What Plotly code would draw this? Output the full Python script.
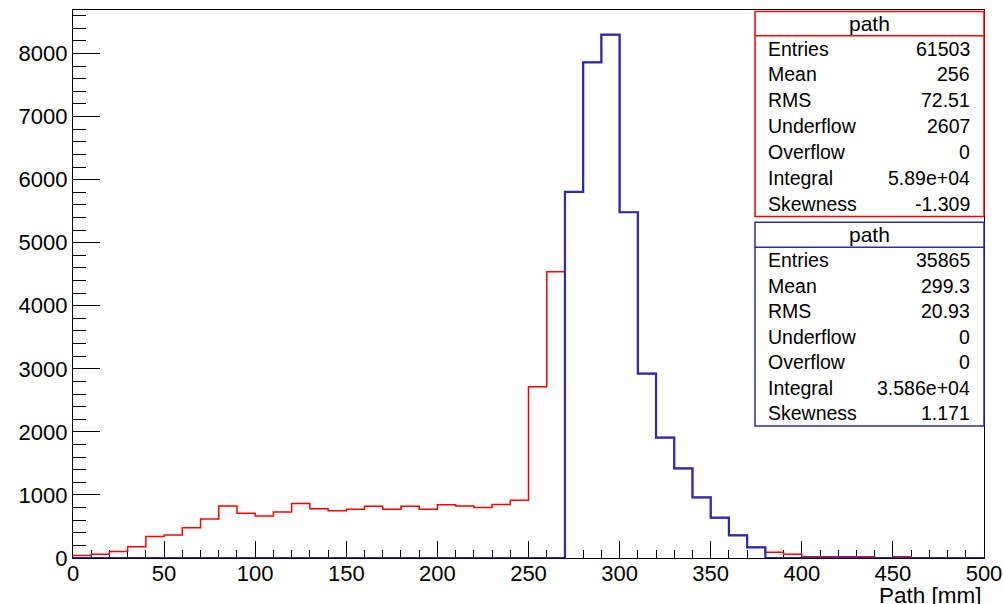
import plotly.graph_objects as go

# ---- data ----
bin_low = list(range(0, 500, 10))          # lower edges of 10 mm bins
bin_width = 10

blue_vals = [0]*27 + [5805, 7860, 8298, 5483, 2925, 1910, 1420, 960, 640, 360, 170] + [0]*12
red_vals = [40, 60, 105, 180, 340, 365, 480, 620, 825, 710,
            665, 730, 865, 780, 750, 775, 820, 775, 820, 775,
            845, 825, 800, 850, 915, 2715, 4540,
            5805, 7860, 8298, 5483, 2925, 1910, 1420, 960, 640, 360, 170,
            90, 60, 20, 20, 20, 20, 5, 20, 0, 0, 0, 0]

stat_labels = ["Entries", "Mean", "RMS", "Underflow", "Overflow", "Integral", "Skewness"]
red_stats = ["61503", "256", "72.51", "2607", "0", "5.89e+04", "-1.309"]
blue_stats = ["35865", "299.3", "20.93", "0", "0", "3.586e+04", "1.171"]
stat_title = "path"

x_title = "Path [mm]"
y_max = 8690

RED = "#ff0000"
BLUE = "#2a2ab8"

edges = bin_low + [bin_low[-1] + bin_width]

fig = go.Figure()
fig.add_trace(go.Scatter(x=edges, y=red_vals + [red_vals[-1]], mode="lines",
                         line=dict(color=RED, width=1.5, shape="hv"), showlegend=False))
fig.add_trace(go.Scatter(x=edges, y=blue_vals + [blue_vals[-1]], mode="lines",
                         line=dict(color=BLUE, width=2.2, shape="hv"), showlegend=False))

FONT = "Liberation Sans, Arial, sans-serif"

fig.update_layout(
    width=1003, height=604,
    margin=dict(l=73, r=19, t=10, b=46, autoexpand=False),
    paper_bgcolor="white", plot_bgcolor="white",
    font=dict(family=FONT, color="black"),
    xaxis=dict(range=[0, 500], showgrid=False, zeroline=False, showline=True,
               linecolor="black", linewidth=1.2, mirror=True, automargin=False,
               ticks="inside", ticklen=17, tickcolor="black", tickwidth=1.2,
               tick0=0, dtick=50, tickfont=dict(size=22, family=FONT),
               ticklabelstandoff=-5,
               minor=dict(ticks="inside", ticklen=8, dtick=10, tickcolor="black", tickwidth=1.2),
               layer="below traces"),
    yaxis=dict(range=[0, y_max], showgrid=False, zeroline=False, showline=True,
               linecolor="black", linewidth=1.2, mirror=True, automargin=False,
               ticks="inside", ticklen=27, tickcolor="black", tickwidth=1.2,
               tick0=0, dtick=1000, tickfont=dict(size=22, family=FONT),
               minor=dict(ticks="inside", ticklen=13, dtick=200, tickcolor="black", tickwidth=1.2),
               layer="below traces"),
)

fig.add_annotation(text=x_title, xref="paper", yref="paper", x=1.0, y=-0.068,
                   xanchor="right", yanchor="middle", showarrow=False,
                   font=dict(size=22.5, family=FONT))

# ---- stat boxes (pixel layout converted to paper coords) ----
PLOT_TOP, PLOT_BOT = 10.0, 558.0
PLOT_L, PLOT_R = 73.0, 984.0


def py(p):
    return (PLOT_BOT - p) / (PLOT_BOT - PLOT_TOP)


def px(p):
    return (p - PLOT_L) / (PLOT_R - PLOT_L)


def stat_box(top, sep, bottom, color, values):
    fig.add_shape(type="rect", xref="paper", yref="paper",
                  x0=px(755), x1=px(984), y0=py(bottom), y1=py(top),
                  line=dict(color=color, width=1.5), fillcolor="white", layer="above")
    fig.add_shape(type="line", xref="paper", yref="paper",
                  x0=px(755), x1=px(984), y0=py(sep), y1=py(sep),
                  line=dict(color=color, width=1.5), layer="above")
    fig.add_annotation(text=stat_title, xref="paper", yref="paper",
                       x=px(869.5), y=py((top + sep) / 2), xanchor="center", yanchor="middle",
                       showarrow=False, font=dict(size=21, family=FONT))
    n = len(stat_labels)
    row_h = (bottom - sep) / n
    for i, (lab, val) in enumerate(zip(stat_labels, values)):
        yc = sep + row_h * (i + 0.5)
        fig.add_annotation(text=lab, xref="paper", yref="paper", x=px(766), y=py(yc),
                           xanchor="left", yanchor="middle", showarrow=False,
                           font=dict(size=19.5, family=FONT))
        fig.add_annotation(text=val, xref="paper", yref="paper", x=px(972), y=py(yc),
                           xanchor="right", yanchor="middle", showarrow=False,
                           font=dict(size=19.5, family=FONT))


stat_box(11.5, 35.7, 216.5, RED, red_stats)
stat_box(222.3, 247.3, 426.0, BLUE, blue_stats)

fig.write_html("out.html", config={"displayModeBar": False},
               post_script="document.body.style.margin='0';document.body.style.overflow='hidden';")
